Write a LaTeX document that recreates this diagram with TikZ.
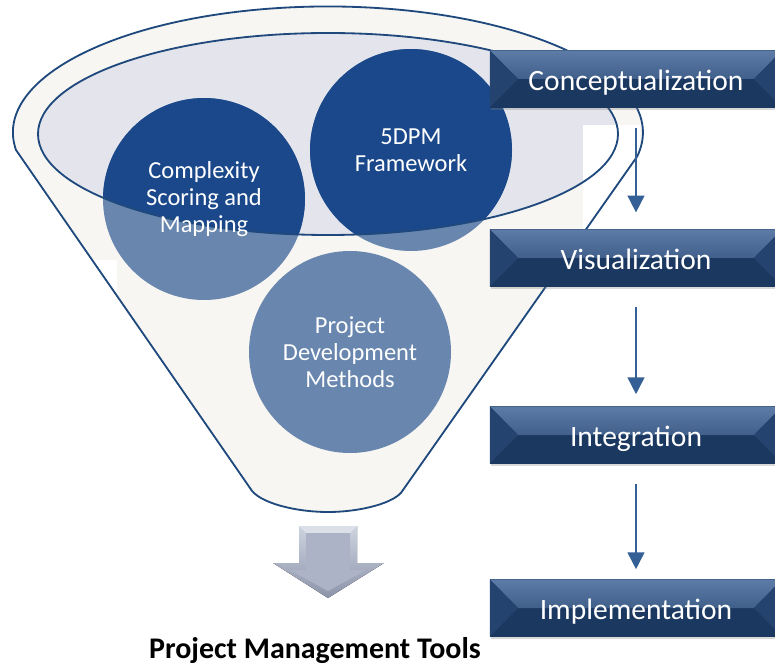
\documentclass[tikz,border=0pt]{standalone}
\usepackage{fontspec}
\setmainfont{Carlito}
\usetikzlibrary{arrows.meta}
\usetikzlibrary{shadows}

\definecolor{funnelline}{RGB}{31,73,125}
\definecolor{funnelfill}{RGB}{247,246,242}
\definecolor{rimfill}{RGB}{228,229,236}
\definecolor{darkball}{RGB}{26,72,138}
\definecolor{lightball}{RGB}{104,134,174}
\definecolor{boxbase}{RGB}{27,56,96}
\definecolor{boxhi}{RGB}{92,124,166}
\definecolor{boxside}{RGB}{36,67,110}
\definecolor{flowblue}{RGB}{52,96,150}
\definecolor{grayhi}{RGB}{206,211,223}
\definecolor{graylo}{RGB}{140,148,170}
\definecolor{grayface}{RGB}{172,179,198}
\definecolor{graytop}{RGB}{220,224,233}

\newcommand{\funnelshape}{(16,150) arc[start angle=172, end angle=371, x radius=315, y radius=126]
  -- (403,490) .. controls (396,503) and (360,512) .. (328,512)
  .. controls (296,512) and (258,503) .. (250,488) -- cycle}

\tikzset{
  ball/.style={circle, minimum size=5.05cm, inner sep=0pt, align=center, text=white,
    font=\fontsize{17.4}{19.4}\selectfont},
  stagebox/.style={minimum width=7.3cm, minimum height=1.425cm, inner sep=0pt,
    text height=21pt, text depth=5pt,
    fill=boxbase, text=white, font=\fontsize{21}{24}\selectfont,
    drop shadow={opacity=0.3, shadow xshift=0.02cm, shadow yshift=-0.07cm},
    path picture={
      \fill[top color=boxhi, bottom color=boxside]
        (path picture bounding box.north west) -- (path picture bounding box.north east)
        -- ([xshift=-0.7cm]path picture bounding box.east) -- ([xshift=0.7cm]path picture bounding box.west) -- cycle;
      \fill[boxside] (path picture bounding box.north west) -- ([xshift=0.7cm]path picture bounding box.west)
        -- (path picture bounding box.south west) -- cycle;
      \fill[boxside] (path picture bounding box.north east) -- ([xshift=-0.7cm]path picture bounding box.east)
        -- (path picture bounding box.south east) -- cycle;
    }},
  flow/.style={draw=flowblue, line width=1.2pt, -{Triangle[width=0.42cm,length=0.42cm]}, shorten <=0.5cm}
}

\begin{document}
\begin{tikzpicture}[x=0.025cm, y=-0.025cm]
\useasboundingbox (0,0) rectangle (775,668);
\clip (0,0) rectangle (775,668);

% funnel
\coordinate (rimc) at (328,134);
\fill[funnelfill] \funnelshape;
\fill[rimfill] (rimc) ellipse[x radius=290, y radius=101];
\fill[white] (583,125) rectangle (640,229);
\fill[white] (0,260) rectangle (117,300);

% balls
\coordinate (cplxc) at (204,199);
\coordinate (fdpmc) at (411,150);
\coordinate (pdmc) at (350,352);
\foreach \c in {cplxc,fdpmc,pdmc}
	\fill[lightball] (\c) circle[radius=101];
\begin{scope}
	\clip (rimc) ellipse[x radius=290, y radius=101];
	\foreach \c in {cplxc,fdpmc}
		\fill[darkball] (\c) circle[radius=101];
\end{scope}
\draw[funnelline, line width=1.3pt] \funnelshape;
\draw[funnelline, line width=1.3pt] (rimc) ellipse[x radius=290, y radius=101];

\node[ball] (cplx) at (cplxc) {Complexity\\Scoring and\\Mapping};
\node[ball] (fdpm) at (fdpmc) {5DPM\\Framework};
\node[ball] (pdm) at (pdmc) {Project\\Development\\Methods};

% stages
\node[stagebox] (concept) at (636,79) {Conceptualization};
\node[stagebox] (visual) at (636,258) {Visualization};
\node[stagebox] (integ) at (636,435) {Integration};
\node[stagebox] (impl) at (636,608) {Implementation};

\draw[flow, shorten >=0.42cm] (concept) -- (visual);
\draw[flow, shorten >=0.3cm] (visual) -- (integ);
\draw[flow, shorten >=0.25cm] (integ) -- (impl);

% output arrow
\fill[top color=grayhi, bottom color=graylo] (299,526) -- (357,526) -- (357,563) -- (384,563)
	-- (328,598) -- (273,563) -- (299,563) -- cycle;
\fill[graytop] (299,526) -- (357,526) -- (350,533) -- (306,533) -- cycle;
\fill[grayface] (306,533) -- (350,533) -- (350,570) -- (366,570) -- (328,591) -- (290,570) -- (306,570) -- cycle;

\node[font=\bfseries\fontsize{21.3}{24}\selectfont] (tools) at (315,651) {Project Management Tools};
\end{tikzpicture}
\end{document}
